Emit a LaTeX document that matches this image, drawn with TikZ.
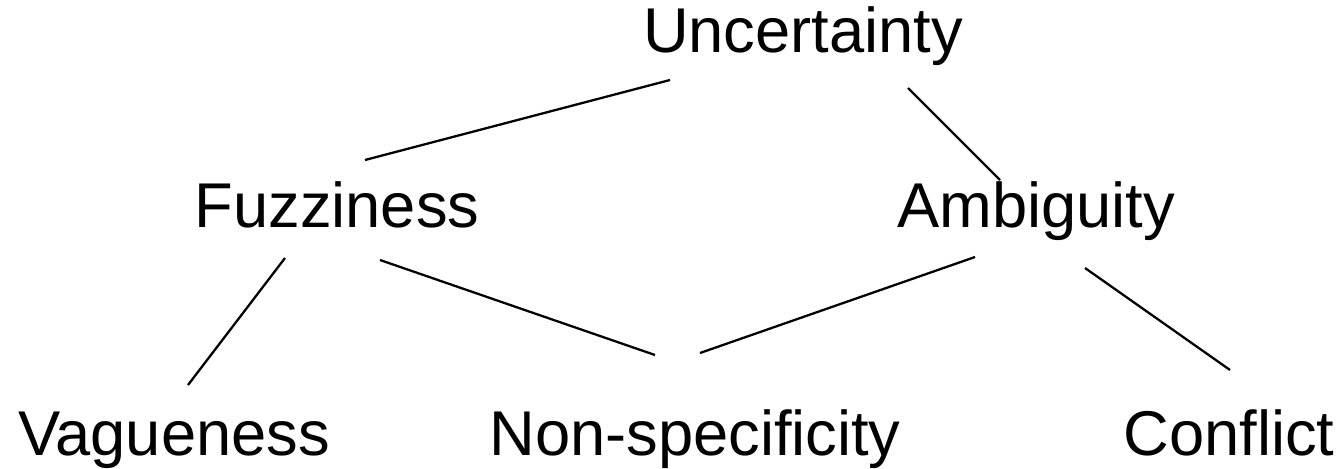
\documentclass[tikz,border=0pt]{standalone}
\usepackage{fontspec}
\setmainfont{Liberation Sans}

\begin{document}
\begin{tikzpicture}[x=0.2mm,y=-0.2mm,
    term/.style={inner sep=0pt,anchor=base,font=\fontsize{36}{42}\selectfont},
    link/.style={line width=1.3pt}]
      \useasboundingbox (0,0) rectangle (1343,468);

      % Terms
      \node[term] (unc) at (803,52) {Uncertainty};
      \node[term] (fuz) at (337,227) {Fuzziness};
      \node[term] (amb) at (1036,227) {Ambiguity};
      \node[term] (vag) at (174,455) {Vagueness};
      \node[term] (nsp) at (695,455) {Non-specificity};
      \node[term] (con) at (1229,455) {Conflict};

      % Links
      \draw[link] ([shift={(-133,28)}]unc.base) -- ([shift={(28,-67)}]fuz.base);
      \draw[link] ([shift={(105,36)}]unc.base) -- ([shift={(-36,-47)}]amb.base);
      \draw[link] ([shift={(-52,31)}]fuz.base) -- ([shift={(14,-70)}]vag.base);
      \draw[link] ([shift={(43,33)}]fuz.base) -- ([shift={(-40,-100)}]nsp.base);
      \draw[link] ([shift={(-61,30)}]amb.base) -- ([shift={(5,-102)}]nsp.base);
      \draw[link] ([shift={(49,41)}]amb.base) -- ([shift={(1,-85)}]con.base);
\end{tikzpicture}
\end{document}
